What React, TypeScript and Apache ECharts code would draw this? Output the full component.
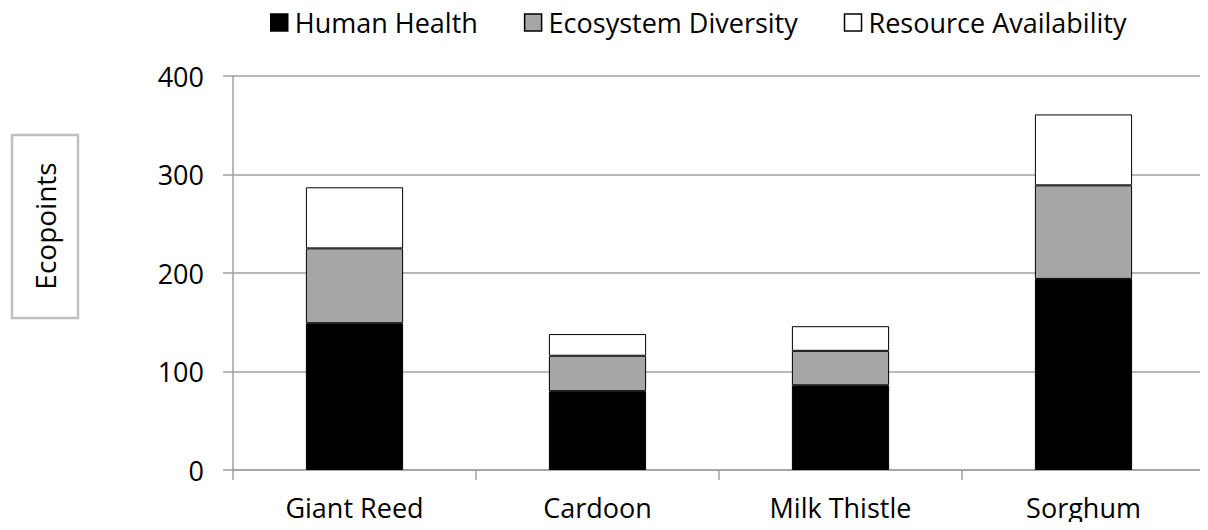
import React, { useEffect, useRef } from "react";
import * as echarts from "echarts";

const categories = ["Giant Reed", "Cardoon", "Milk Thistle", "Sorghum"];
const humanHealth = [149, 80, 86, 194];
const ecosystemDiversity = [76, 36, 35, 95];
const resourceAvailability = [62, 22, 25, 72];
const seriesNames = ["Human Health", "Ecosystem Diversity", "Resource Availability"];
const yTicks = { min: 0, max: 400, interval: 100 };
const yTitle = "Ecopoints";

const FONT = "'Open Sans', sans-serif";
const FS = 27;

export default function App() {
  const ref = useRef<HTMLDivElement>(null);
  useEffect(() => {
    if (!ref.current) return;
    const chart = echarts.init(ref.current, undefined, { renderer: "svg" });
    const colors = ["#000000", "#a6a6a6", "#ffffff"];
    const values = [humanHealth, ecosystemDiversity, resourceAvailability];
    chart.setOption({
      animation: false,
      backgroundColor: "#ffffff",
      textStyle: { fontFamily: FONT },
      legend: {
        top: 4,
        left: 265,
        itemWidth: 17,
        itemHeight: 17,
        itemGap: 46,
        icon: "rect",
        textStyle: { fontSize: FS, color: "#000", fontFamily: FONT, padding: [0, 0, 0, 2] },
        data: seriesNames.map((n, i) => ({
          name: n,
          itemStyle: { color: colors[i], borderColor: "#000", borderWidth: 1.5 },
        })),
      },
      grid: { left: 233, right: 3, top: 76, bottom: 60, containLabel: false },
      xAxis: {
        type: "category",
        data: categories,
        axisLine: { lineStyle: { color: "#a0a0a0", width: 1.5 } },
        axisTick: { show: true, length: 10, lineStyle: { color: "#a0a0a0", width: 1.5 } },
        axisLabel: { fontSize: FS, color: "#000", margin: 24, fontFamily: FONT },
      },
      yAxis: {
        type: "value",
        min: yTicks.min,
        max: yTicks.max,
        interval: yTicks.interval,
        axisLine: { show: true, lineStyle: { color: "#a0a0a0", width: 1.5 } },
        axisTick: { show: true, length: 10, lineStyle: { color: "#a0a0a0", width: 1.5 } },
        axisLabel: { fontSize: FS, color: "#000", margin: 29, fontFamily: FONT },
        splitLine: { lineStyle: { color: "#a0a0a0", width: 1.5 } },
      },
      series: seriesNames.map((n, i) => ({
        name: n,
        type: "bar",
        stack: "total",
        data: values[i],
        barWidth: "40%",
        itemStyle: { color: colors[i], borderColor: "#000", borderWidth: 1 },
      })),
      graphic: [
        {
          type: "rect",
          shape: { x: 12, y: 135, width: 66, height: 183 },
          style: { fill: "#fff", stroke: "#c0c0c0", lineWidth: 2.5 },
        },
        {
          type: "text",
          x: 45,
          y: 226,
          rotation: Math.PI / 2,
          style: {
            text: yTitle,
            fontSize: 28,
            fontFamily: FONT,
            fill: "#000",
            align: "center",
            verticalAlign: "middle",
          },
        },
      ],
    });
    return () => chart.dispose();
  }, []);
  return <div ref={ref} style={{ width: 1208, height: 530, margin: -8 }} />;
}
